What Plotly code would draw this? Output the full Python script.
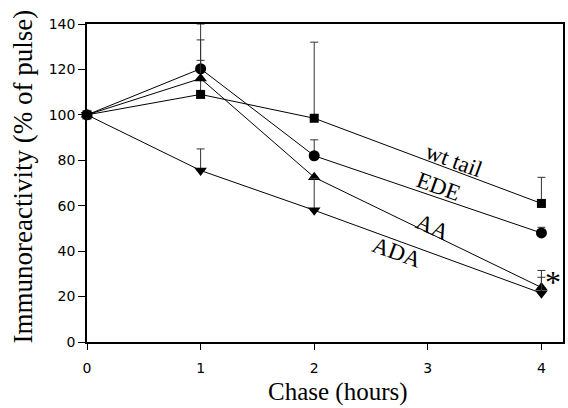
import plotly.graph_objects as go

hours = [0, 1, 2, 4]

wt_tail = [100, 109, 98.5, 61]
wt_tail_err = [0, 31, 33.5, 11.5]

ede = [100, 120.3, 82, 48]
ede_err = [0, 3.7, 7, 2.5]

aa = [100, 116, 72.5, 24]
aa_err = [0, 17, 0, 7.5]

ada = [100, 75.5, 58, 21.5]
ada_err = [0, 9.5, 14, 7]

x_ticks = [0, 1, 2, 3, 4]
y_ticks = [0, 20, 40, 60, 80, 100, 120, 140]

series = [
    ("wt tail", wt_tail, wt_tail_err, "square", 9),
    ("EDE", ede, ede_err, "circle", 11),
    ("AA", aa, aa_err, "triangle-up", 11),
    ("ADA", ada, ada_err, "triangle-down", 11),
]

fig = go.Figure()
for name, vals, errs, sym, sz in series:
    fig.add_trace(go.Scatter(
        x=hours, y=vals, name=name, mode="lines+markers",
        line=dict(color="black", width=1),
        marker=dict(symbol=sym, size=sz, color="black"),
        error_y=dict(type="data", symmetric=False, array=errs,
                     arrayminus=[0] * len(errs), color="#333333",
                     thickness=1, width=4),
        cliponaxis=False,
        showlegend=False,
    ))

serif = "Liberation Serif, Times New Roman, serif"
labels = [
    ("wt tail", 3.23, 80.1, 20),
    ("EDE", 3.09, 68.3, 20),
    ("AA", 3.05, 50.6, 24),
    ("ADA", 2.73, 39.6, 20),
]
for txt, x, y, ang in labels:
    fig.add_annotation(x=x, y=y, xref="x", yref="y", text=txt, showarrow=False,
                       textangle=ang, font=dict(family=serif, size=23, color="black"))
fig.add_annotation(x=4.10, y=26.5, xref="x", yref="y", text="*", showarrow=False,
                   font=dict(family=serif, size=32, color="black"))

fig.add_annotation(x=0.527, y=-0.158, xref="paper", yref="paper", text="Chase (hours)",
                   showarrow=False, font=dict(family=serif, size=25, color="black"),
                   xanchor="center", yanchor="middle")
fig.add_annotation(x=-0.135, y=0.52, xref="paper", yref="paper",
                   text="Immunoreactivity (% of pulse)", textangle=-90,
                   showarrow=False, font=dict(family=serif, size=27, color="black"),
                   xanchor="center", yanchor="middle")

tickfont = dict(family="DejaVu Sans, Arial, sans-serif", size=14, color="black")
fig.update_xaxes(range=[0, 4.19], tickvals=x_ticks, ticks="outside", ticklen=6,
                 tickcolor="black", showline=True, linecolor="black", linewidth=1.5,
                 mirror=True, showgrid=False, zeroline=False, tickfont=tickfont,
                 ticklabelstandoff=6)
fig.update_yaxes(range=[0, 140], tickvals=y_ticks, ticks="outside", ticklen=7,
                 tickcolor="black", showline=True, linecolor="black", linewidth=1.5,
                 mirror=True, showgrid=False, zeroline=False, tickfont=tickfont)

fig.update_layout(width=568, height=408, margin=dict(l=87, r=3, t=24, b=66),
                  plot_bgcolor="white", paper_bgcolor="white")

fig.write_html("out.html")
